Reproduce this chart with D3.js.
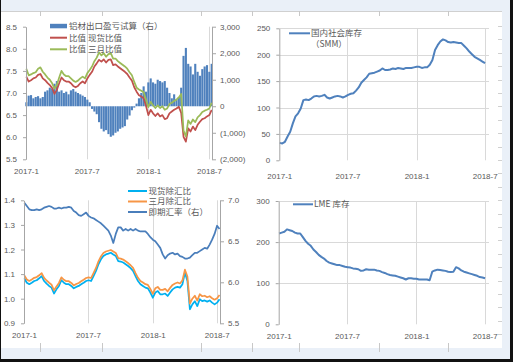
<!DOCTYPE html>
<html>
<head>
<meta charset="utf-8">
<script src="https://cdn.jsdelivr.net/npm/d3@7"></script>
<style>
  body { margin: 0; background: #fff; }
  svg text { font-family: "Liberation Sans", "Noto Sans CJK SC", sans-serif; fill: #595959; }
  .legend text { font-family: "Noto Sans CJK SC", sans-serif; font-size: 8.5px; }
</style>
</head>
<body>
<svg id="chart" width="513" height="362"></svg>
<script>
// weekly readings, first week is 2017-01-02
var weeks = d3.timeMonday.range(new Date(2017, 0, 2), new Date(2018, 6, 10));
var xTicks = [new Date(2017, 0, 1), new Date(2017, 6, 1), new Date(2018, 0, 1), new Date(2018, 6, 1)];

// top left: export profit (right axis) and ratios
var exportPnl = [150,400,420,300,350,380,300,350,550,600, 700,650,850,950,550,600,500,550,450,600,
    650,550,500,450,400,350,250,150,-100,-200, -300,-600,-850,-950,-900,-1050,-1150,-1100,-1000,-950,
    -850,-800,-750,-500,-350,-150,-50,100,300,500, 750,550,900,1050,900,850,1000,950,900,950,
    700,500,300,450,250,350,700,1900,2200,1600, 1500,1200,1600,1300,1150,1400,1500,1550,1300,1600];
var spotRatio = [7.37,7.26,7.29,7.33,7.35,7.41,7.43,7.33,7.29,7.23, 7.18,7.11,6.98,7.07,7.22,7.35,7.29,7.26,7.26,7.22,
    7.16,7.13,7.16,7.22,7.26,7.22,7.33,7.41,7.48,7.60, 7.67,7.75,7.71,7.76,7.69,7.75,7.76,7.63,7.65,7.60,
    7.56,7.52,7.48,7.43,7.35,7.28,7.13,7.03,6.95,6.92, 6.88,6.71,6.50,6.62,6.54,6.48,6.54,6.47,6.50,6.41,
    6.43,6.54,6.58,6.62,6.65,6.69,6.55,6.01,5.90,6.20, 6.13,6.24,6.16,6.28,6.35,6.41,6.43,6.47,6.50,6.62];
var threeMRatio = [7.55,7.40,7.42,7.45,7.47,7.55,7.58,7.48,7.42,7.35, 7.30,7.22,7.10,7.18,7.35,7.50,7.42,7.38,7.38,7.33,
    7.28,7.25,7.28,7.33,7.37,7.33,7.45,7.52,7.60,7.72, 7.80,7.92,7.85,7.90,7.82,7.88,7.90,7.78,7.78,7.72,
    7.68,7.64,7.60,7.55,7.47,7.40,7.25,7.12,7.08,7.05, 7.02,6.85,6.68,6.80,6.72,6.66,6.72,6.66,6.70,6.62,
    6.65,6.75,6.78,6.82,6.85,6.90,6.98,6.15,6.02,6.38, 6.30,6.40,6.34,6.45,6.50,6.57,6.60,6.62,6.65,6.78];

// top right: SMM domestic stock
var smmStock = [33,32,35,45,54,70,83,89,98,114, 115,114,117,121,122,121,122,124,119,117,
    119,121,122,121,119,121,124,126,127,132, 138,147,152,157,164,165,166,168,170,174,
    171,171,172,174,173,175,174,173,175,175, 175,176,177,177,175,176,176,181,190,209,
    218,225,229,227,224,223,224,223,222,222, 217,212,206,201,196,193,190,187,184];

// bottom left: ratios ex-FX and spot FX (right axis)
var spotFx = [1.083,1.065,1.059,1.065,1.072,1.075,1.083,1.092,1.072,1.061, 1.052,1.045,1.021,1.038,1.052,1.075,1.065,1.059,1.059,1.052,
    1.042,1.048,1.052,1.059,1.065,1.072,1.075,1.072,1.092,1.113, 1.140,1.160,1.174,1.180,1.183,1.187,1.180,1.174,1.153,1.151,
    1.147,1.140,1.133,1.124,1.113,1.092,1.072,1.059,1.052,1.045, 1.042,1.025,1.004,1.025,1.031,1.018,1.018,1.021,1.011,1.025,
    1.038,1.045,1.048,1.045,1.059,1.106,1.072,0.957,0.977,0.990, 0.970,0.998,0.990,0.993,0.988,0.993,0.984,0.977,0.984,0.998];
var threeMFx = [1.095,1.078,1.072,1.078,1.085,1.088,1.095,1.104,1.085,1.074, 1.065,1.057,1.034,1.050,1.064,1.087,1.077,1.071,1.071,1.064,
    1.054,1.060,1.064,1.071,1.077,1.084,1.087,1.084,1.104,1.125, 1.152,1.172,1.186,1.192,1.195,1.198,1.192,1.186,1.165,1.163,
    1.159,1.152,1.145,1.136,1.125,1.104,1.085,1.072,1.066,1.059, 1.056,1.040,1.020,1.042,1.048,1.036,1.036,1.040,1.030,1.044,
    1.056,1.062,1.066,1.062,1.075,1.118,1.090,0.980,1.000,1.012, 0.992,1.018,1.010,1.012,1.006,1.010,1.002,0.996,1.002,1.015];
var fxRate = [6.97,6.93,6.89,6.88,6.88,6.89,6.88,6.89,6.91,6.92, 6.93,6.92,6.90,6.90,6.91,6.90,6.91,6.91,6.92,6.91,
    6.87,6.85,6.82,6.81,6.83,6.85,6.81,6.79,6.78,6.76, 6.74,6.72,6.69,6.66,6.63,6.57,6.48,6.59,6.67,6.67,
    6.63,6.65,6.63,6.65,6.63,6.65,6.63,6.62,6.62,6.62, 6.59,6.55,6.52,6.50,6.46,6.42,6.34,6.29,6.33,6.35,
    6.36,6.34,6.35,6.32,6.31,6.29,6.29,6.30,6.33,6.36, 6.36,6.38,6.40,6.42,6.41,6.46,6.52,6.59,6.69,6.65];

// bottom right: LME stock
var lmeStock = [221,223,225,231,229,227,223,221,221,212, 203,196,191,182,176,169,164,160,154,150,
    148,146,144,144,142,140,139,138,136,135, 134,130,131,134,133,133,133,131,130,127,
    125,122,120,119,118,116,114,112,109,112, 112,111,111,109,109,109,109,107,128,131,
    133,132,131,130,128,127,128,139,136,131, 128,126,124,122,120,118,115,114,112];

var leftTicks1 = [5.5, 6.0, 6.5, 7.0, 7.5, 8.0, 8.5];
var rightTicks1 = [-2000, -1000, 0, 1000, 2000, 3000];
var ticks2 = [0, 50, 100, 150, 200, 250];
var leftTicks3 = [0.9, 1.0, 1.1, 1.2, 1.3, 1.4];
var rightTicks3 = [5.5, 6.0, 6.5, 7.0];
var ticks4 = [0, 100, 200, 300];

var svg = d3.select('#chart');
var blue = '#4f81bd', grid = '#d9d9d9', axisGrey = '#a6a6a6', frame = '#eaf0f8';

// page frame
svg.append('rect').attr('width', 513).attr('height', 362).attr('fill', '#fff');
svg.append('rect').attr('width', 513).attr('height', 11).attr('fill', frame);
svg.append('rect').attr('x', 502).attr('width', 11).attr('height', 362).attr('fill', frame);
svg.append('rect').attr('y', 348).attr('width', 513).attr('height', 14).attr('fill', frame);
svg.append('line').attr('x1', 0).attr('x2', 502).attr('y1', 11.5).attr('y2', 11.5).attr('stroke', '#d0d0d0');
[40, 102, 201, 252, 299, 379, 448].forEach(function(x) {
    svg.append('line').attr('x1', x + 0.5).attr('x2', x + 0.5).attr('y1', 11).attr('y2', 16).attr('stroke', '#c8c8c8');
    svg.append('line').attr('x1', x + 0.5).attr('x2', x + 0.5).attr('y1', 343).attr('y2', 352).attr('stroke', '#c8c8c8');
});
for (var my = 26; my < 340; my += 13.4) {
    svg.append('line').attr('x1', 498).attr('x2', 502).attr('y1', Math.round(my) + 0.5).attr('y2', Math.round(my) + 0.5)
        .attr('stroke', '#d0d0d0');
}
svg.append('rect').attr('x', 0).attr('width', 1).attr('height', 362).attr('fill', '#111');
svg.append('rect').attr('x', 510).attr('width', 3).attr('height', 362).attr('fill', '#111');
svg.append('rect').attr('y', 359).attr('width', 513).attr('height', 3).attr('fill', '#111');

function vGrid(x, y0, y1) {
    xTicks.slice(1).forEach(function(t) {
        svg.append('line').attr('x1', Math.round(x(t)) + 0.5).attr('x2', Math.round(x(t)) + 0.5)
            .attr('y1', y0).attr('y2', y1).attr('stroke', grid);
    });
}

function hGrid(y, ticks, x0, x1) {
    ticks.forEach(function(v) {
        svg.append('line').attr('x1', x0).attr('x2', x1)
            .attr('y1', Math.round(y(v)) + 0.5).attr('y2', Math.round(y(v)) + 0.5).attr('stroke', grid);
    });
}

function styleAxis(g) {
    g.attr('font-family', null).attr('font-size', 8);
    g.select('.domain').attr('stroke', axisGrey);
    g.selectAll('.tick line').attr('stroke', axisGrey);
    g.selectAll('.tick text').attr('fill', '#595959');
    return g;
}

function xLabels(x, y) {
    var g = svg.append('g').attr('transform', 'translate(0,' + y + ')')
        .call(d3.axisBottom(x).tickValues(xTicks).tickSize(0).tickPadding(9).tickFormat(d3.timeFormat('%Y-%-m')));
    styleAxis(g);
    g.select('.domain').remove();
}

function drawLine(x, y, values, color, width) {
    svg.append('path').datum(values)
        .attr('fill', 'none').attr('stroke', color).attr('stroke-width', width).attr('stroke-linejoin', 'round')
        .attr('d', d3.line().x(function(d, i) { return x(weeks[i]); }).y(function(d) { return y(d); }));
}

// ---- panel 1 ----
var x1 = d3.scaleTime().domain([xTicks[0], xTicks[3]]).range([26, 209]);
var yL1 = d3.scaleLinear().domain([5.5, 8.5]).range([159.3, 26.7]);
var yR1 = d3.scaleLinear().domain([-2000, 3000]).range([159.3, 26.7]);
vGrid(x1, 26.7, 159.3);

svg.append('g').selectAll('rect').data(exportPnl).enter().append('rect')
    .attr('x', function(d, i) { return x1(weeks[i]) - 1.05; })
    .attr('width', 2.1)
    .attr('y', function(d) { return yR1(Math.max(0, d)); })
    .attr('height', function(d) { return Math.abs(yR1(d) - yR1(0)); })
    .attr('fill', blue);

drawLine(x1, yL1, spotRatio, '#c0504d', 1.75);
drawLine(x1, yL1, threeMRatio, '#9bbb59', 1.75);

styleAxis(svg.append('g').attr('transform', 'translate(26,0)')
    .call(d3.axisLeft(yL1).tickValues(leftTicks1).tickSize(3).tickSizeOuter(0).tickPadding(6).tickFormat(d3.format('.1f'))));
var r1 = styleAxis(svg.append('g').attr('transform', 'translate(212,0)')
    .call(d3.axisRight(yR1).tickValues(rightTicks1).tickSize(4).tickSizeOuter(0).tickPadding(4)
        .tickFormat(function(v) { return v < 0 ? '(' + d3.format(',')(-v) + ')' : d3.format(',')(v); })));
r1.selectAll('.tick text').attr('fill', function(v) { return v < 0 ? '#ff0000' : '#595959'; });
xLabels(x1, 159.3);

var leg1 = svg.append('g').attr('class', 'legend');
leg1.append('rect').attr('x', 50).attr('y', 23.8).attr('width', 17).attr('height', 4.5).attr('fill', blue);
leg1.append('line').attr('x1', 50).attr('x2', 67).attr('y1', 37.7).attr('y2', 37.7).attr('stroke', '#c0504d').attr('stroke-width', 2);
leg1.append('line').attr('x1', 50).attr('x2', 67).attr('y1', 49.3).attr('y2', 49.3).attr('stroke', '#9bbb59').attr('stroke-width', 2);
[['铝材出口盈亏试算（右）', 26], ['比值 现货比值', 37.7], ['比值 三月比值', 49.3]].forEach(function(d) {
    leg1.append('text').attr('x', 69).attr('y', d[1]).attr('dy', '0.35em').text(d[0]);
});

// ---- panel 2 ----
var x2 = d3.scaleTime().domain([xTicks[0], xTicks[3]]).range([279.3, 484.7]);
var y2 = d3.scaleLinear().domain([0, 250]).range([160.3, 28.3]);
hGrid(y2, ticks2.slice(1), 279.3, 489);
vGrid(x2, 28.3, 160.3);
drawLine(x2, y2, smmStock, blue, 2);
styleAxis(svg.append('g').attr('transform', 'translate(279.3,0)')
    .call(d3.axisLeft(y2).tickValues(ticks2).tickSize(3).tickSizeOuter(0).tickPadding(6)));
xLabels(x2, 164.3);

var leg2 = svg.append('g').attr('class', 'legend');
leg2.append('line').attr('x1', 289).attr('x2', 310).attr('y1', 33.3).attr('y2', 33.3).attr('stroke', blue).attr('stroke-width', 2);
leg2.append('text').attr('x', 311).attr('y', 33.3).attr('dy', '0.35em').text('国内社会库存');
leg2.append('text').attr('x', 311).attr('y', 44.5).attr('dy', '0.35em').text('（SMM）');

// ---- panel 3 ----
var x3 = d3.scaleTime().domain([xTicks[0], xTicks[3]]).range([24, 216.7]);
var yL3 = d3.scaleLinear().domain([0.9, 1.4]).range([323.3, 200.3]);
var yR3 = d3.scaleLinear().domain([5.5, 7.0]).range([323.3, 200.3]);
vGrid(x3, 200.3, 323.3);
drawLine(x3, yL3, spotFx, '#00b0f0', 1.75);
drawLine(x3, yL3, threeMFx, '#f79646', 1.75);
drawLine(x3, yR3, fxRate, '#4a7ebb', 1.75);
styleAxis(svg.append('g').attr('transform', 'translate(24,0)')
    .call(d3.axisLeft(yL3).tickValues(leftTicks3).tickSize(3).tickSizeOuter(0).tickPadding(6).tickFormat(d3.format('.1f'))));
styleAxis(svg.append('g').attr('transform', 'translate(220,0)')
    .call(d3.axisRight(yR3).tickValues(rightTicks3).tickSize(4).tickSizeOuter(0).tickPadding(4).tickFormat(d3.format('.1f'))));
xLabels(x3, 323.3);

var leg3 = svg.append('g').attr('class', 'legend');
[['现货除汇比', '#00b0f0', 191], ['三月除汇比', '#f79646', 201.5], ['即期汇率（右）', '#4a7ebb', 212]].forEach(function(d) {
    leg3.append('line').attr('x1', 128).attr('x2', 147).attr('y1', d[2]).attr('y2', d[2]).attr('stroke', d[1]).attr('stroke-width', 2);
    leg3.append('text').attr('x', 148.5).attr('y', d[2]).attr('dy', '0.35em').text(d[0]);
});

// ---- panel 4 ----
var x4 = d3.scaleTime().domain([xTicks[0], xTicks[3]]).range([278.7, 484.7]);
var y4 = d3.scaleLinear().domain([0, 300]).range([324.3, 201]);
hGrid(y4, ticks4.slice(1), 278.7, 489);
vGrid(x4, 201, 324.3);
drawLine(x4, y4, lmeStock, blue, 2);
styleAxis(svg.append('g').attr('transform', 'translate(278.7,0)')
    .call(d3.axisLeft(y4).tickValues(ticks4).tickSize(3).tickSizeOuter(0).tickPadding(6)));
xLabels(x4, 324.3);

var leg4 = svg.append('g').attr('class', 'legend');
leg4.append('line').attr('x1', 293).attr('x2', 313).attr('y1', 204.3).attr('y2', 204.3).attr('stroke', blue).attr('stroke-width', 2);
leg4.append('text').attr('x', 314).attr('y', 204.3).attr('dy', '0.35em').text('LME 库存');
</script>
</body>
</html>
